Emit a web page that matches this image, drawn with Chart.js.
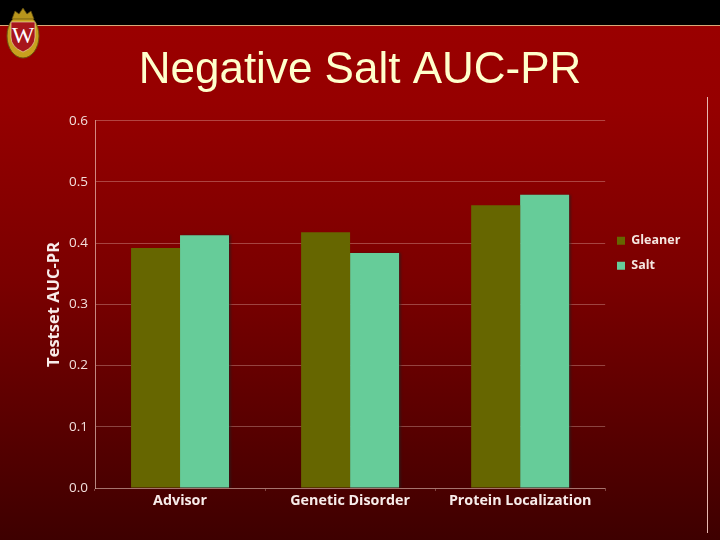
<!DOCTYPE html>
<html>
<head>
<meta charset="utf-8">
<title>Negative Salt AUC-PR</title>
<style>
  html, body { margin: 0; padding: 0; background: #000; }
  #slide { position: relative; width: 720px; height: 540px; overflow: hidden; background: #000; }
  #bg { position: absolute; left: 0; top: 25px; width: 720px; height: 515px;
        border-top: 1px solid #d8a878; box-sizing: border-box;
        background: linear-gradient(to bottom, #9a0000 0%, #960000 15%, #7a0000 50%, #3e0000 100%); }
  #rule { position: absolute; left: 707px; top: 97px; width: 1px; height: 436px; background: #e8b8b0; }
  #crest { position: absolute; left: 6px; top: 7px; }
  canvas { position: absolute; left: 0; top: 0; }
</style>
<script src="https://cdn.jsdelivr.net/npm/chart.js@4"></script>
</head>
<body>
<div id="slide">
  <div id="bg"></div>
  <div id="rule"></div>
  <svg id="crest" width="34" height="53" viewBox="0 0 34 53">
    <ellipse cx="17" cy="29" rx="16" ry="22" fill="#c8a01e" stroke="#6b5510"/>
    <path d="M6 12 L9 4 L13 7 L17 1 L21 7 L25 4 L28 12 Z" fill="#b8951c" stroke="#5c4a10" stroke-width="0.7"/>
    <path d="M5 15 L29 15 L29 30 Q29 40 17 45 Q5 40 5 30 Z" fill="#a8161c" stroke="#f0e0c0" stroke-width="0.6"/>
    <text x="17" y="36" text-anchor="middle" font-family="Liberation Serif" font-size="24" fill="#fff">W</text>
  </svg>
  <canvas id="chartId" width="720" height="540"></canvas>
</div>
<script>
const categories = ['Advisor', 'Genetic Disorder', 'Protein Localization']
const gleanerValues = [0.392, 0.418, 0.462]
const saltValues = [0.413, 0.384, 0.479]
const yTicks = [0, 0.1, 0.2, 0.3, 0.4, 0.5, 0.6]

const labelFont = "'Open Sans', 'Noto Sans', sans-serif"
const lineColor = 'rgba(255, 225, 215, 0.3)'

// bar shadow on the right side, only the Salt bars show it
const barShadow = {
    id: 'barShadow',
    beforeDatasetDraw(chart, args) {
        chart.ctx.save()
        if (args.index === 1) {
            chart.ctx.shadowColor = 'rgba(40, 30, 30, 0.6)'
            chart.ctx.shadowOffsetX = 2
            chart.ctx.shadowBlur = 2
        }
    },
    afterDatasetDraw(chart) {
        chart.ctx.restore()
    }
}

// legend sits beside the plot above its middle, title is centred on the slide
const moveBoxes = {
    id: 'moveBoxes',
    afterLayout(chart) {
        const l = chart.legend
        l.left = 604.5
        l.right = 710
        l.top = 222
        l.bottom = 420
        chart.titleBlock.left = 0
        chart.titleBlock.right = 720
    }
}

new Chart(document.getElementById('chartId'), {
    type: 'bar',
    data: {
        labels: categories,
        datasets: [
            { label: 'Gleaner', data: gleanerValues, backgroundColor: '#666600' },
            { label: 'Salt', data: saltValues, backgroundColor: '#66cc99' }
        ]
    },
    plugins: [barShadow, moveBoxes],
    options: {
        responsive: false,
        animation: false,
        layout: { padding: { top: 44, right: 29, bottom: 0, left: 44 } },
        datasets: { bar: { categoryPercentage: 0.576, barPercentage: 1 } },
        plugins: {
            title: {
                display: true,
                text: 'Negative Salt AUC-PR',
                color: '#ffffcc',
                font: { family: "'Liberation Sans', Arial, sans-serif", size: 44, weight: 'normal' },
                padding: { top: 0, bottom: 24 }
            },
            legend: {
                position: 'right',
                align: 'start',
                labels: {
                    color: '#f5e6e0',
                    boxWidth: 8,
                    boxHeight: 8,
                    padding: 12.5,
                    font: { family: labelFont, size: 12.5, weight: 'bold' }
                }
            },
            tooltip: { enabled: false }
        },
        scales: {
            x: {
                afterFit: s => { s.height = 52 },
                grid: {
                    offset: true,
                    // only the closing line on the right of the plot
                    color: c => c.index === categories.length ? lineColor : 'transparent',
                    tickColor: lineColor,
                    tickLength: 3
                },
                border: { color: lineColor },
                ticks: {
                    color: '#f8ecea',
                    padding: 1,
                    maxRotation: 0,
                    font: { family: labelFont, size: 14.3, weight: 'bold' }
                }
            },
            y: {
                min: 0,
                max: 0.6,
                afterFit: s => { s.width = 51 },
                afterBuildTicks: s => { s.ticks = yTicks.map(v => ({ value: v })) },
                grid: { color: lineColor, drawTicks: false },
                border: { color: 'rgba(255, 225, 215, 0.6)' },
                title: {
                    display: true,
                    text: 'Testset AUC-PR',
                    color: '#f8ecea',
                    padding: 0,
                    font: { family: labelFont, size: 16.5, weight: 'bold' }
                },
                ticks: {
                    color: '#f2dedb',
                    padding: 7,
                    callback: v => v.toFixed(1),
                    font: { family: labelFont, size: 13.5 }
                }
            }
        }
    }
})
</script>
</body>
</html>
